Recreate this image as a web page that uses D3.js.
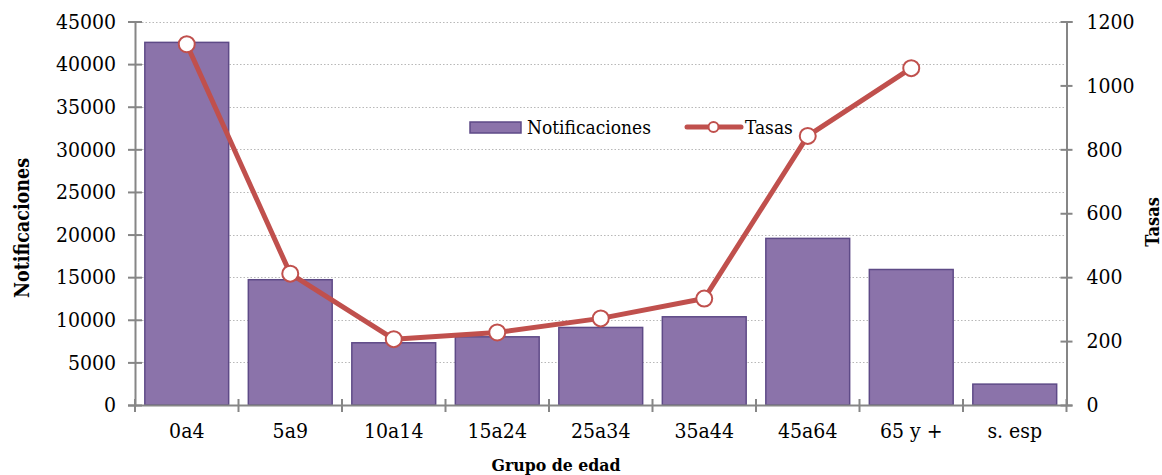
<!DOCTYPE html>
<html>
<head>
<meta charset="utf-8">
<script src="https://cdn.jsdelivr.net/npm/d3@7"></script>
<style>
  html, body { margin: 0; padding: 0; background: #fff; }
  svg text { font-family: "DejaVu Serif", serif; font-stretch: condensed; fill: #000; }
</style>
</head>
<body>
<svg id="chart" width="1162" height="475"></svg>
<script>
const categories = ["0a4", "5a9", "10a14", "15a24", "25a34", "35a44", "45a64", "65 y +", "s. esp"];
const notificaciones = [42550, 14700, 7300, 8000, 9100, 10350, 19550, 15900, 2450];
const tasas = [1129, 411, 206, 227, 271, 333, 842, 1054, null];
const leftTicks = [0, 5000, 10000, 15000, 20000, 25000, 30000, 35000, 40000, 45000];
const rightTicks = [0, 200, 400, 600, 800, 1000, 1200];

const svg = d3.select("#chart");
const pLeft = 135, pRight = 1066.5, pTop = 21.5, pBottom = 405;

const x = d3.scaleBand().domain(categories).range([pLeft, pRight]).paddingInner(0.19).paddingOuter(0.095);
const yL = d3.scaleLinear().domain([0, 45000]).range([pBottom, pTop]);
const yR = d3.scaleLinear().domain([0, 1200]).range([pBottom, pTop]);

// gridlines
svg.append("g").selectAll("line").data(leftTicks.filter(d => d > 0)).join("line")
  .attr("x1", pLeft).attr("x2", pRight)
  .attr("y1", d => Math.round(yL(d)) + 0.5).attr("y2", d => Math.round(yL(d)) + 0.5)
  .attr("stroke", "#b8b8b8").attr("stroke-width", 1.2).attr("stroke-dasharray", "1.5,2");

// bars
svg.append("g").selectAll("rect").data(categories).join("rect")
  .attr("x", d => x(d)).attr("width", x.bandwidth())
  .attr("y", (d, i) => yL(notificaciones[i]))
  .attr("height", (d, i) => pBottom - yL(notificaciones[i]))
  .attr("fill", "#8b73aa").attr("stroke", "#5e4a87").attr("stroke-width", 1.5);

// axes
const axisColor = "#868686";
const gL = svg.append("g").attr("transform", `translate(${pLeft},0)`)
  .call(d3.axisLeft(yL).tickValues(leftTicks).tickSize(7).tickPadding(12).tickFormat(d3.format("d")));
const gR = svg.append("g").attr("transform", `translate(${pRight},0)`)
  .call(d3.axisRight(yR).tickValues(rightTicks).tickSize(6).tickPadding(14).tickFormat(d3.format("d")));
const gX = svg.append("g").attr("transform", `translate(0,${pBottom})`)
  .call(d3.axisBottom(x).tickSize(0).tickPadding(18));

[gL, gR].forEach(g => {
  g.select(".domain").attr("stroke", axisColor).attr("stroke-width", 2);
  g.selectAll(".tick line").attr("stroke", axisColor).attr("stroke-width", 2);
  g.selectAll(".tick text").style("font-size", "21px").attr("fill", "#000");
});
gL.selectAll(".tick line").attr("x1", 7);
gR.selectAll(".tick line").attr("x1", -6);
gX.select(".domain").attr("stroke", axisColor).attr("stroke-width", 2);
gX.selectAll(".tick text").style("font-size", "21px").attr("fill", "#000");

// x boundary ticks
const bounds = d3.range(categories.length + 1).map(i => pLeft + i * x.step());
svg.append("g").selectAll("line").data(bounds).join("line")
  .attr("x1", d => d).attr("x2", d => d)
  .attr("y1", pBottom - 6).attr("y2", pBottom + 7)
  .attr("stroke", axisColor).attr("stroke-width", 2);

// line series
const pts = categories.map((c, i) => ({c, v: tasas[i]})).filter(d => d.v != null);
const line = d3.line().x(d => x(d.c) + x.bandwidth() / 2).y(d => yR(d.v));
svg.append("path").datum(pts).attr("d", line)
  .attr("fill", "none").attr("stroke", "#c0504d").attr("stroke-width", 5).attr("stroke-linejoin", "round");
svg.append("g").selectAll("circle").data(pts).join("circle")
  .attr("cx", d => x(d.c) + x.bandwidth() / 2).attr("cy", d => yR(d.v)).attr("r", 8)
  .attr("fill", "#fff").attr("stroke", "#c0504d").attr("stroke-width", 2);

// legend
const lg = svg.append("g");
lg.append("rect").attr("x", 470).attr("y", 122).attr("width", 51).attr("height", 11)
  .attr("fill", "#8b73aa").attr("stroke", "#5e4a87").attr("stroke-width", 1.5);
lg.append("text").attr("x", 527).attr("y", 133.5).style("font-size", "19px").text("Notificaciones");
lg.append("line").attr("x1", 687).attr("x2", 741).attr("y1", 127).attr("y2", 127)
  .attr("stroke", "#c0504d").attr("stroke-width", 5).attr("stroke-linecap", "round");
lg.append("circle").attr("cx", 713.5).attr("cy", 127).attr("r", 5)
  .attr("fill", "#fff").attr("stroke", "#c0504d").attr("stroke-width", 2);
lg.append("text").attr("x", 745).attr("y", 133.5).style("font-size", "19px").text("Tasas");

// axis titles
svg.append("text").attr("transform", "translate(29,228) rotate(-90)").attr("text-anchor", "middle")
  .style("font-size", "19.5px").style("font-weight", "bold").text("Notificaciones");
svg.append("text").attr("transform", "translate(1159,222) rotate(-90)").attr("text-anchor", "middle")
  .style("font-size", "18px").style("font-weight", "bold").text("Tasas");
svg.append("text").attr("x", 556).attr("y", 471).attr("text-anchor", "middle")
  .style("font-size", "17.5px").style("font-weight", "bold").text("Grupo de edad");
</script>
</body>
</html>
